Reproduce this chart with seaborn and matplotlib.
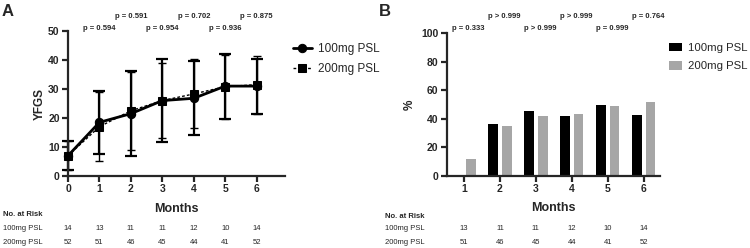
import numpy as np
import pandas as pd
import matplotlib
matplotlib.use("Agg")
import matplotlib.pyplot as plt
import matplotlib.transforms as mtransforms
import seaborn as sns

#%% Data
groups = ["100mg PSL", "200mg PSL"]

# panel A: YFGS mean +/- SD per month
months_a = [0, 1, 2, 3, 4, 5, 6]
yfgs_100 = [7.0, 18.5, 21.5, 26.0, 26.8, 31.0, 31.0]
sd_100 = [5.0, 10.8, 14.7, 14.2, 12.8, 11.2, 9.5]
yfgs_200 = [7.0, 17.0, 22.5, 26.0, 28.3, 30.8, 31.5]
sd_200 = [5.0, 11.9, 13.5, 12.9, 11.9, 11.0, 10.0]
p_a = ["p = 0.594", "p = 0.591", "p = 0.954", "p = 0.702", "p = 0.936", "p = 0.875"]
risk_a_100 = [14, 13, 11, 11, 12, 10, 14]
risk_a_200 = [52, 51, 46, 45, 44, 41, 52]

# panel B: % per month
months_b = ["1", "2", "3", "4", "5", "6"]
pct_100 = [0.0, 36.4, 45.5, 41.7, 50.0, 42.9]
pct_200 = [11.8, 34.8, 42.2, 43.2, 48.8, 51.9]
p_b = ["p = 0.333", "p > 0.999", "p > 0.999", "p > 0.999", "p = 0.999", "p = 0.764"]
risk_b_100 = [13, 11, 11, 12, 10, 14]
risk_b_200 = [51, 46, 45, 44, 41, 52]

#%% Style
sns.set_style("ticks")
plt.rcParams["font.family"] = ["Liberation Sans", "DejaVu Sans"]
plt.rcParams["axes.linewidth"] = 1.6
plt.rcParams["xtick.major.width"] = 1.6
plt.rcParams["ytick.major.width"] = 1.6
plt.rcParams["xtick.major.size"] = 4
plt.rcParams["ytick.major.size"] = 4

fig = plt.figure(figsize=(7.5, 2.48), dpi=100)
H = 248.0

def fy(px):
    return 1 - px / H

#%% Panel A
df_a = pd.DataFrame({
    "Months": months_a * 2,
    "YFGS": yfgs_100 + yfgs_200,
    "SD": sd_100 + sd_200,
    "Grupo": [groups[0]] * len(months_a) + [groups[1]] * len(months_a),
})

ax1 = fig.add_axes([68 / 750, fy(176), (285 - 68) / 750, (176 - 31) / H])
for g, lw, cs in [(groups[0], 1.6, 4), (groups[1], 1.0, 3)]:
    d = df_a[df_a["Grupo"] == g]
    ax1.errorbar(d["Months"], d["YFGS"], yerr=d["SD"], fmt="none", ecolor="black",
                 elinewidth=lw, capsize=cs, capthick=lw, clip_on=False, zorder=2)
sns.lineplot(data=df_a, x="Months", y="YFGS", hue="Grupo", style="Grupo", size="Grupo",
             palette=["black", "black"], markers={groups[0]: "o", groups[1]: "s"},
             dashes={groups[0]: "", groups[1]: (2, 1.5)},
             sizes={groups[0]: 2.0, groups[1]: 1.0},
             markersize=6, markeredgecolor="black", ax=ax1, clip_on=False, zorder=3)
ax1.set_xlim(0, 6.9)
ax1.set_ylim(0, 50)
ax1.set_xticks(months_a)
ax1.set_yticks([0, 10, 20, 30, 40, 50])
sns.despine(ax=ax1)
ax1.set_xlabel("Months", fontsize=9, fontweight="bold", labelpad=6)
ax1.set_ylabel("YFGS", fontsize=8.5, fontweight="bold", labelpad=2)
for lab in ax1.get_xticklabels() + ax1.get_yticklabels():
    lab.set_fontweight("bold")
    lab.set_fontsize(7.5)
ax1.tick_params(pad=2)
ax1.legend(loc="upper left", bbox_to_anchor=(0.02, 0.97), bbox_transform=ax1.transAxes,
           frameon=False, fontsize=8.5, handlelength=1.6, labelspacing=0.7,
           handletextpad=0.5, borderaxespad=0)
leg1 = ax1.get_legend()
leg1.set_bbox_to_anchor((288 / 750, fy(38)), transform=fig.transFigure)

tr1 = mtransforms.blended_transform_factory(ax1.transData, fig.transFigure)
for i, p in enumerate(p_a):
    ax1.text(months_a[i + 1], fy(28) if i % 2 == 0 else fy(17), p, transform=tr1,
             ha="center", va="center", fontsize=5.5, fontweight="bold")
for i, m in enumerate(months_a):
    ax1.text(m, fy(228), str(risk_a_100[i]), transform=tr1, ha="center", va="center", fontsize=5.5)
    ax1.text(m, fy(242), str(risk_a_200[i]), transform=tr1, ha="center", va="center", fontsize=5.5)
fig.text(3 / 750, fy(215), "No. at Risk", fontsize=5.5, fontweight="bold", va="center")
fig.text(3 / 750, fy(228), groups[0], fontsize=5.5, va="center")
fig.text(3 / 750, fy(242), groups[1], fontsize=5.5, va="center")
fig.text(2 / 750, fy(11), "A", fontsize=12, fontweight="bold", va="center")

#%% Panel B
df_b = pd.DataFrame({
    "Months": months_b * 2,
    "pct": pct_100 + pct_200,
    "Grupo": [groups[0]] * len(months_b) + [groups[1]] * len(months_b),
})

ax2 = fig.add_axes([446.7 / 750, fy(175.7), (660 - 446.7) / 750, (175.7 - 33.3) / H])
sns.barplot(data=df_b, x="Months", y="pct", hue="Grupo", palette=["black", "#a6a6a6"],
            width=0.76, gap=0.3, ax=ax2, linewidth=0)
ax2.set_xlim(-0.48, 5.45)
ax2.set_ylim(0, 100)
ax2.set_yticks([0, 20, 40, 60, 80, 100])
sns.despine(ax=ax2)
ax2.set_xlabel("Months", fontsize=9, fontweight="bold", labelpad=6)
ax2.set_ylabel("%", fontsize=8.5, fontweight="bold", labelpad=4)
for lab in ax2.get_xticklabels() + ax2.get_yticklabels():
    lab.set_fontweight("bold")
    lab.set_fontsize(7.5)
ax2.tick_params(pad=2)
ax2.legend(loc="upper left", frameon=False, fontsize=8.2,
           handlelength=1.2, handleheight=0.8, labelspacing=0.7, handletextpad=0.5,
           borderaxespad=0)
leg2 = ax2.get_legend()
leg2.set_bbox_to_anchor((664 / 750, fy(38)), transform=fig.transFigure)

tr2 = mtransforms.blended_transform_factory(ax2.transData, fig.transFigure)
for i, p in enumerate(p_b):
    ax2.text(i + 0.13, fy(28) if i % 2 == 0 else fy(17), p, transform=tr2,
             ha="center", va="center", fontsize=5.5, fontweight="bold")
for i in range(len(months_b)):
    ax2.text(i, fy(229), str(risk_b_100[i]), transform=tr2, ha="center", va="center", fontsize=5.5)
    ax2.text(i, fy(243), str(risk_b_200[i]), transform=tr2, ha="center", va="center", fontsize=5.5)
fig.text(385 / 750, fy(216), "No. at Risk", fontsize=5.5, fontweight="bold", va="center")
fig.text(385 / 750, fy(229), groups[0], fontsize=5.5, va="center")
fig.text(385 / 750, fy(243), groups[1], fontsize=5.5, va="center")
fig.text(379 / 750, fy(11), "B", fontsize=12, fontweight="bold", va="center")

fig.savefig("out.png", dpi=100)
